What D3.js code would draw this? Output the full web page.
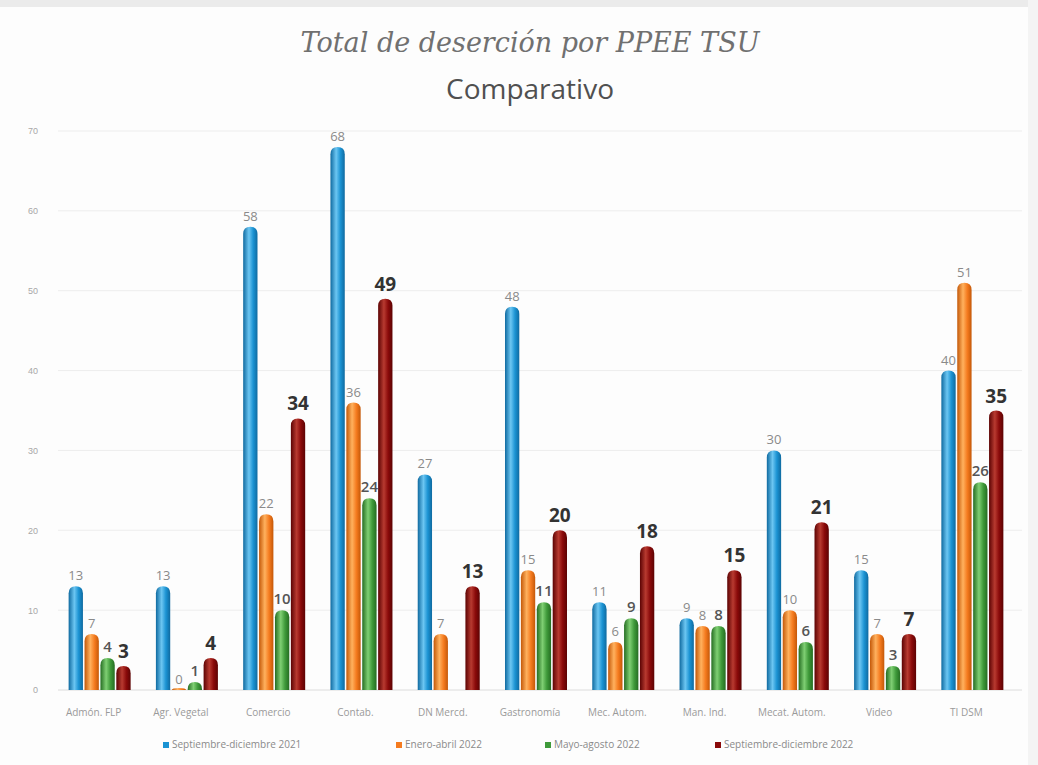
<!DOCTYPE html>
<html lang="es">
<head>
<meta charset="UTF-8">
<title>Total de deserción por PPEE TSU</title>
<script src="https://cdn.jsdelivr.net/npm/d3@7"></script>
<style>
  body { margin: 0; background: #fdfdfd; }
  svg { display: block; }
</style>
</head>
<body>
<svg id="chart" width="1038" height="765"></svg>
<script>
// datos
var carreras = ["Admón. FLP", "Agr. Vegetal", "Comercio", "Contab.", "DN Mercd.", "Gastronomía",
                "Mec. Autom.", "Man. Ind.", "Mecat. Autom.", "Video", "TI DSM"];
var periodos = ["Septiembre-diciembre 2021", "Enero-abril 2022", "Mayo-agosto 2022", "Septiembre-diciembre 2022"];
var sepDic2021 = [13, 13, 58, 68, 27, 48, 11, 9, 30, 15, 40];
var eneAbr2022 = [7, 0, 22, 36, 7, 15, 6, 8, 10, 7, 51];
var mayAgo2022 = [4, 1, 10, 24, null, 11, 9, 8, 6, 3, 26];
var sepDic2022 = [3, 4, 34, 49, 13, 20, 18, 15, 21, 7, 35];
var ticks = [0, 10, 20, 30, 40, 50, 60, 70];

var series = [sepDic2021, eneAbr2022, mayAgo2022, sepDic2022];
var colores = [
  { base: "#1b93d3", light: "#6cc6f2", dark: "#0f6aa0" },
  { base: "#f57b1f", light: "#ffb15e", dark: "#c45808" },
  { base: "#3f9a3a", light: "#7fcf73", dark: "#256d22" },
  { base: "#8a0a0a", light: "#b83a30", dark: "#5c0303" }
];

var svg = d3.select("#chart");
var defs = svg.append("defs");
colores.forEach(function(c, i) {
  var g = defs.append("linearGradient").attr("id", "cyl" + i)
    .attr("x1", "0%").attr("x2", "100%").attr("y1", "0%").attr("y2", "0%");
  g.append("stop").attr("offset", "0%").attr("stop-color", c.dark);
  g.append("stop").attr("offset", "40%").attr("stop-color", c.light);
  g.append("stop").attr("offset", "70%").attr("stop-color", c.base);
  g.append("stop").attr("offset", "100%").attr("stop-color", c.dark);
});

// marco de la foto
svg.append("rect").attr("x", 0).attr("y", 0).attr("width", 1038).attr("height", 7).attr("fill", "#ebebeb");
svg.append("rect").attr("x", 1028).attr("y", 0).attr("width", 10).attr("height", 765).attr("fill", "#f4f4f4");

var x0 = d3.scaleBand().domain(carreras).range([56, 1016]);
var x1 = d3.scaleBand().domain(d3.range(4)).range([0, 62]).paddingInner(0.1);
var y = d3.scaleLinear().domain([0, 70]).range([690, 131]);

// titulo
svg.append("text").attr("x", 530).attr("y", 52).attr("text-anchor", "middle")
  .attr("font-family", "DejaVu Serif, serif").attr("font-style", "italic")
  .attr("font-size", 27).attr("fill", "#707070")
  .text("Total de deserción por PPEE  TSU");
svg.append("text").attr("x", 530).attr("y", 99).attr("text-anchor", "middle")
  .attr("font-family", "Open Sans, sans-serif")
  .attr("font-size", 28).attr("fill", "#505050")
  .text("Comparativo");

// rejilla
svg.append("g").selectAll("line").data(ticks.slice(1)).enter().append("line")
  .attr("x1", 58).attr("x2", 1022)
  .attr("y1", function(d) { return y(d); }).attr("y2", function(d) { return y(d); })
  .attr("stroke", "#ededed").attr("stroke-width", 1);

// eje y
var yAxis = svg.append("g").attr("transform", "translate(44,0)")
  .call(d3.axisLeft(y).tickValues(ticks).tickSize(0).tickPadding(6));
yAxis.select(".domain").remove();
yAxis.selectAll("text").attr("font-family", "Liberation Sans, sans-serif")
  .attr("font-size", 9).attr("fill", "#a8a8a8");

svg.append("line").attr("x1", 58).attr("x2", 1022).attr("y1", y(0)).attr("y2", y(0))
  .attr("stroke", "#dcdcdc");

// barras
function cilindro(x, w, top, bottom) {
  var r = w / 2;
  if (bottom - top < r) r = Math.max(0, bottom - top);
  return "M" + x + "," + bottom + "V" + (top + r) +
    "Q" + x + "," + top + " " + (x + w / 2) + "," + top +
    "Q" + (x + w) + "," + top + " " + (x + w) + "," + (top + r) +
    "V" + bottom + "Z";
}

var grupos = svg.append("g").selectAll("g").data(carreras).enter().append("g")
  .attr("transform", function(d) { return "translate(" + (x0(d) + (x0.bandwidth() - 62) / 2) + ",0)"; });

grupos.selectAll("path").data(function(d, i) {
  return series.map(function(s, k) { return { k: k, v: s[i] }; }).filter(function(e) { return e.v !== null; });
}).enter().append("path")
  .attr("d", function(e) {
    var top = y(e.v);
    if (e.v === 0) top = y(0) - 2;
    return cilindro(x1(e.k), x1.bandwidth(), top, y(0));
  })
  .attr("fill", function(e) { return "url(#cyl" + e.k + ")"; });

// etiquetas de valor
grupos.selectAll("text").data(function(d, i) {
  return series.map(function(s, k) { return { k: k, v: s[i] }; }).filter(function(e) { return e.v !== null; });
}).enter().append("text")
  .attr("x", function(e) { return x1(e.k) + x1.bandwidth() / 2; })
  .attr("y", function(e) { return y(e.v) - (e.k === 3 ? 8 : 6); })
  .attr("text-anchor", "middle")
  .attr("font-family", "Open Sans, sans-serif")
  .attr("font-size", function(e) { return e.k === 3 ? 19 : (e.k === 2 ? 15 : 13); })
  .attr("font-weight", function(e) { return e.k === 3 ? "bold" : (e.k === 2 ? 600 : "normal"); })
  .attr("fill", function(e) { return e.k === 3 ? "#333" : (e.k === 2 ? "#555" : "#8a8a8a"); })
  .text(function(e) { return e.v; });

// etiquetas del eje x
svg.append("g").selectAll("text").data(carreras).enter().append("text")
  .attr("x", function(d) { return x0(d) + x0.bandwidth() / 2 - 6; })
  .attr("y", 716).attr("text-anchor", "middle")
  .attr("font-family", "Open Sans, sans-serif").attr("font-size", 10).attr("fill", "#9a9a9a")
  .text(function(d) { return d; });

// leyenda
var legX = [163, 396, 545, 715];
var leg = svg.append("g").selectAll("g").data(periodos).enter().append("g")
  .attr("transform", function(d, i) { return "translate(" + legX[i] + ",746)"; });
leg.append("rect").attr("x", 0).attr("y", -4).attr("width", 6).attr("height", 6)
  .attr("fill", function(d, i) { return colores[i].base; });
leg.append("text").attr("x", 9).attr("y", 2)
  .attr("font-family", "Open Sans, sans-serif").attr("font-size", 10).attr("fill", "#8a8a8a")
  .text(function(d) { return d; });
</script>
</body>
</html>
